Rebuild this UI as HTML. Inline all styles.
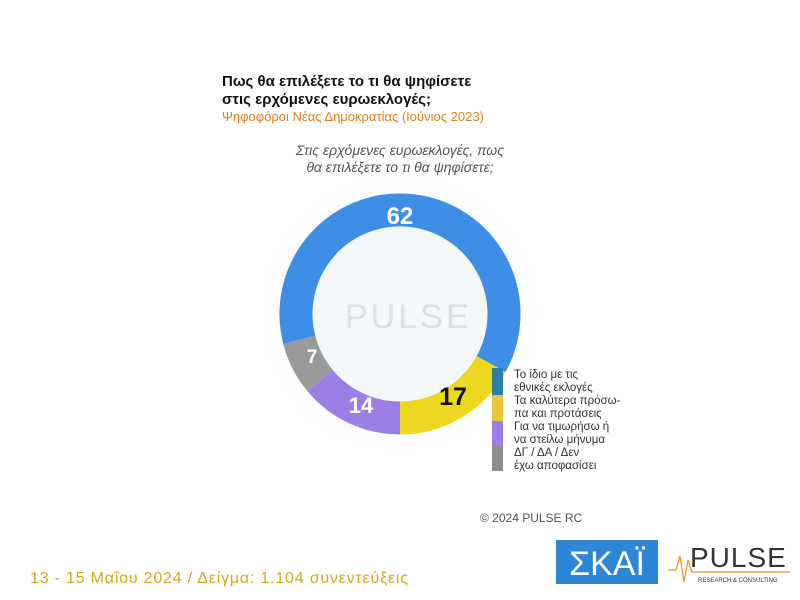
<!DOCTYPE html>
<html><head><meta charset="utf-8"><style>
body{margin:0;background:#fff;}
svg{display:block;}
</style></head><body>
<svg width="800" height="600" viewBox="0 0 800 600" xmlns="http://www.w3.org/2000/svg">
<defs>
<radialGradient id="glow" cx="50%" cy="50%" r="50%">
<stop offset="0.6" stop-color="#e8f2fb" stop-opacity="1"/>
<stop offset="1" stop-color="#fff" stop-opacity="0"/>
</radialGradient>
</defs>
<rect width="800" height="600" fill="#fff"/>
<circle cx="400" cy="314" r="145" fill="url(#glow)"/>
<circle cx="400" cy="314" r="88" fill="#f4f8fb"/>
<g font-family="Liberation Sans, DejaVu Sans, sans-serif">
<text x="222" y="86" font-size="15" font-weight="bold" fill="#111">Πως θα επιλέξετε το τι θα ψηφίσετε</text>
<text x="222" y="104" font-size="15" font-weight="bold" fill="#111">στις ερχόμενες ευρωεκλογές;</text>
<text x="222" y="121" font-size="13" fill="#e07f1f">Ψηφοφόροι Νέας Δημοκρατίας (Ιούνιος 2023)</text>
<text x="400" y="155" font-size="14" font-style="italic" fill="#555" text-anchor="middle">Στις ερχόμενες ευρωεκλογές, πως</text>
<text x="400" y="172" font-size="14" font-style="italic" fill="#555" text-anchor="middle">θα επιλέξετε το τι θα ψηφίσετε;</text>
</g>
<g fill="none" stroke-width="33">
<path d="M400 418 A104 104 0 0 1 319.96 380.43" stroke="#9b7fe6"/>
<path d="M319.96 380.43 A104 104 0 0 1 299.26 339.87" stroke="#9a9a9a"/>
<path d="M299.26 339.87 A104 104 0 1 1 491.08 364.10" stroke="#3e8ee6"/>
<path d="M491.08 364.10 A104 104 0 0 1 400 418" stroke="#ecd820"/>
</g>
<g font-family="Liberation Sans, DejaVu Sans, sans-serif">
<text x="345" y="328" font-size="34" fill="#dde1e5" letter-spacing="3">PULSE</text>
<text x="400" y="224" font-size="24" font-weight="bold" fill="#fff" text-anchor="middle">62</text>
<text x="453" y="405" font-size="25" font-weight="bold" fill="#111" text-anchor="middle">17</text>
<text x="361" y="413" font-size="22" font-weight="bold" fill="#fff" text-anchor="middle">14</text>
<text x="312" y="363" font-size="19" font-weight="bold" fill="#fff" text-anchor="middle">7</text>
<rect x="492" y="368" width="11" height="27" fill="#2f7fa8"/>
<rect x="492" y="395" width="11" height="26" fill="#e8c83a"/>
<rect x="492" y="421" width="11" height="25" fill="#9b7fe6"/>
<rect x="492" y="446" width="11" height="25" fill="#8e8e8e"/>
<g font-size="11.5" fill="#333">
<text x="514" y="378">Το ίδιο με τις</text>
<text x="514" y="391">εθνικές εκλογές</text>
<text x="514" y="404">Τα καλύτερα πρόσω-</text>
<text x="514" y="417">πα και προτάσεις</text>
<text x="514" y="430">Για να τιμωρήσω ή</text>
<text x="514" y="443">να στείλω μήνυμα</text>
<text x="514" y="456">ΔΓ / ΔΑ / Δεν</text>
<text x="514" y="469">έχω αποφασίσει</text>
</g>
<text x="480" y="522" font-size="12" fill="#555">© 2024 PULSE RC</text>
<text x="30" y="583" font-size="16" fill="#d4a81c" textLength="378">13 - 15  Μαΐου  2024  /  Δείγμα:  1.104 συνεντεύξεις</text>
<rect x="556" y="540" width="102" height="44" fill="#2e86d6"/>
<text x="607" y="575" font-size="34" fill="#fff" text-anchor="middle">ΣΚΑΪ</text>
<polyline points="668,570 676,570 680,556 684,582 688,560 692,572 700,572 790,572" fill="none" stroke="#e8912b" stroke-width="1.2"/>
<text x="690" y="567" font-size="28" fill="#333" letter-spacing="1">PULSE</text>
<text x="698" y="582" font-size="6" fill="#333">RESEARCH &amp; CONSULTING</text>
</g>
</svg>
</body></html>
